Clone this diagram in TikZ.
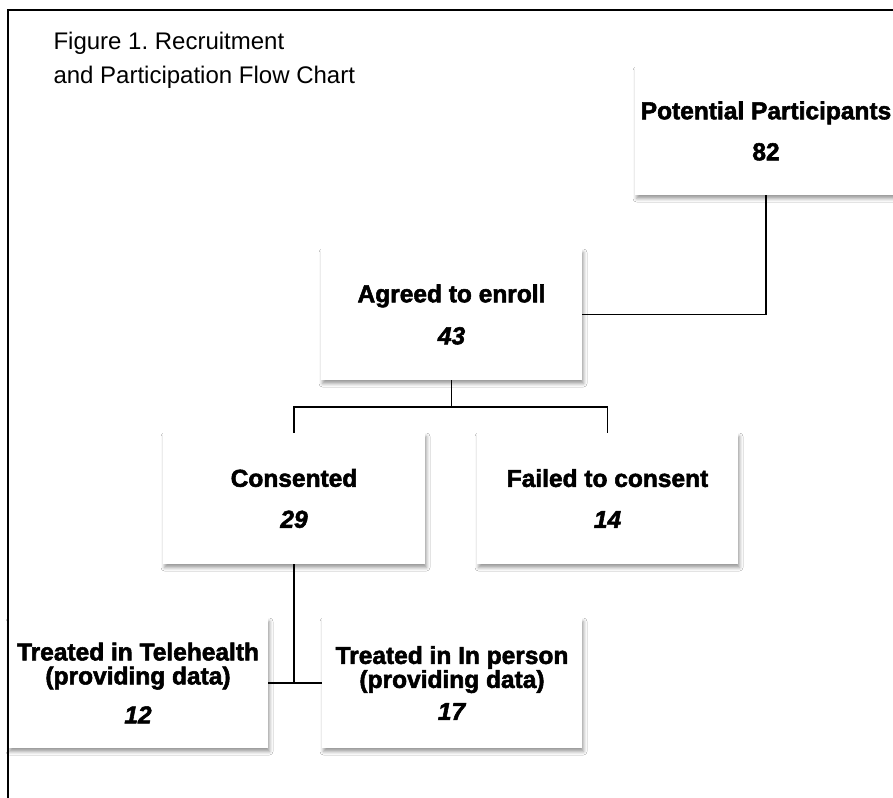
\documentclass[tikz,border=0pt]{standalone}
\usepackage{fontspec}
\setmainfont{Liberation Sans}[BoldFeatures={FakeBold=2.2}, BoldItalicFeatures={FakeBold=2.2}]
\usetikzlibrary{shadows.blur}
\newcommand\bxfont{\bfseries\fontsize{24.5}{26}\selectfont}
\newcommand\ttlfont{\fontsize{24}{28}\selectfont}
\frenchspacing
\begin{document}
\begin{tikzpicture}[x=1pt,y=-1pt,
  box/.style={rectangle, fill=white, inner sep=0pt, align=center, font=\bxfont,
    blur shadow={shadow xshift=1.5pt, shadow yshift=-3.5pt, shadow blur radius=3.5pt, shadow opacity=40}},
  bigbox/.style={box, minimum width=262pt, minimum height=130pt},
  link/.style={line width=1.8pt, black},
  frame/.style={line width=2pt, black}]
\useasboundingbox (0,0) rectangle (893,797);
\fill[white] (0,0) rectangle (893,797);

\node[anchor=base west, font=\ttlfont] (title1) at (50,50) {Figure 1. Recruitment};
\node[anchor=base west, font=\ttlfont] (title2) at (50,84) {and Participation Flow Chart};

\node[bigbox, minimum height=128pt] (pp) at (766,131) {Potential Participants\\[15pt]82};
\node[bigbox, minimum width=261pt, minimum height=131pt] (ag) at (451.5,314.5) {Agreed to enroll\\[16pt]\textit{43}};
\node[bigbox, minimum height=131pt] (con) at (294,498.5) {Consented\\[15pt]\textit{29}};
\node[bigbox, minimum width=261pt, minimum height=131pt] (fail) at (607.5,498.5) {Failed to consent\\[15pt]\textit{14}};
\node[bigbox, minimum width=260pt, font=\bfseries\fontsize{24.5}{24}\selectfont] (tele) at (138,683) {Treated in Telehealth\\(providing data)\\[15pt]\textit{12}};
\node[bigbox, minimum width=260pt, font=\bfseries\fontsize{24.5}{24}\selectfont] (inp) at (452,683) {Treated in In person\\(providing data)\\[8pt]\textit{17}};

\draw[link] (pp.south) |- (ag.east);
\draw[link] (ag.south) -- ++(0,27) coordinate (j1);
\draw[link] (con.north) |- (j1) -| (fail.north);
\draw[link] (con.south) -- (con.south |- tele.east);
\draw[link] (tele.east) -- (inp.west);

\draw[frame] (900,10) -- (7.5,10) -- (7.5,805);
\end{tikzpicture}
\end{document}
